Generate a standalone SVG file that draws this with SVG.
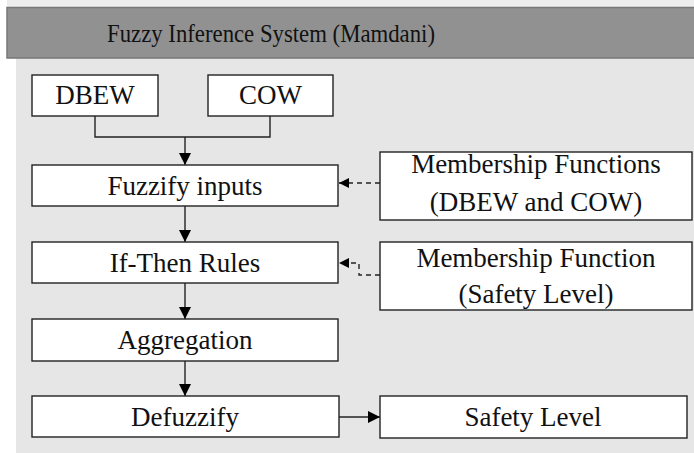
<svg xmlns="http://www.w3.org/2000/svg" width="694" height="453" viewBox="0 0 694 453">
<defs>
<style>
.box{fill:#ffffff;stroke:#222222;stroke-width:1.4}
.t{font-family:"Liberation Serif","Times New Roman",serif;font-size:27px;fill:#111111;text-anchor:middle}
.c{fill:none;stroke:#222222;stroke-width:1.4}
.d{fill:none;stroke:#222222;stroke-width:1.4;stroke-dasharray:5 4}
</style>
<marker id="ah" markerUnits="userSpaceOnUse" markerWidth="12" markerHeight="12" refX="12" refY="6" orient="auto">
<path d="M0,0 L12,6 L0,12 z" fill="#000000"/>
</marker>
<marker id="ahs" markerUnits="userSpaceOnUse" markerWidth="10" markerHeight="10" refX="10" refY="5" orient="auto">
<path d="M0,0 L10,5 L0,10 z" fill="#000000"/>
</marker>
</defs>
<rect x="0" y="0" width="694" height="453" fill="#ffffff"/>
<rect x="7" y="0" width="687" height="8" fill="#ececec"/>
<rect x="16" y="58" width="678" height="395" fill="#e6e6e6"/>
<g id="title">
<rect x="7" y="7.5" width="688" height="50.5" fill="#919191" stroke="#777777" stroke-width="1.5"/>
<text class="t" x="271" y="42" style="font-size:25.5px" textLength="328" lengthAdjust="spacingAndGlyphs">Fuzzy Inference System (Mamdani)</text>
</g>
<g id="connectors">
<path class="c" d="M95,116 V137 H270 V116"/>
<path class="c" d="M185,137 V165" marker-end="url(#ah)"/>
<path class="c" d="M185,206 V242" marker-end="url(#ah)"/>
<path class="c" d="M185,283 V319" marker-end="url(#ah)"/>
<path class="c" d="M185,361 V396" marker-end="url(#ah)"/>
<path class="c" d="M339,417 H380" marker-end="url(#ah)"/>
<path class="d" d="M380,183 H339" marker-end="url(#ahs)"/>
<path class="d" d="M380,275 H359 V263 H339" marker-end="url(#ahs)"/>
</g>
<g id="dbew">
<rect class="box" x="32" y="75" width="126" height="41"/>
<text class="t" x="95" y="104">DBEW</text>
</g>
<g id="cow">
<rect class="box" x="208" y="75" width="125" height="41"/>
<text class="t" x="270.5" y="104">COW</text>
</g>
<g id="fuzzify">
<rect class="box" x="32" y="165" width="306" height="41"/>
<text class="t" x="185" y="195">Fuzzify inputs</text>
</g>
<g id="mf-inputs">
<rect class="box" x="380" y="152" width="312" height="68"/>
<text class="t" x="536" y="173">Membership Functions</text>
<text class="t" x="536" y="211">(DBEW and COW)</text>
</g>
<g id="rules">
<rect class="box" x="32" y="242" width="306" height="41"/>
<text class="t" x="185" y="272">If-Then Rules</text>
</g>
<g id="mf-output">
<rect class="box" x="380" y="242" width="312" height="68"/>
<text class="t" x="536" y="267">Membership Function</text>
<text class="t" x="536" y="303">(Safety Level)</text>
</g>
<g id="aggregation">
<rect class="box" x="32" y="319" width="306" height="42"/>
<text class="t" x="185" y="349">Aggregation</text>
</g>
<g id="defuzzify">
<rect class="box" x="32" y="396" width="307" height="41"/>
<text class="t" x="185" y="426">Defuzzify</text>
</g>
<g id="safety">
<rect class="box" x="380" y="396" width="307" height="42"/>
<text class="t" x="533" y="426">Safety Level</text>
</g>
</svg>
